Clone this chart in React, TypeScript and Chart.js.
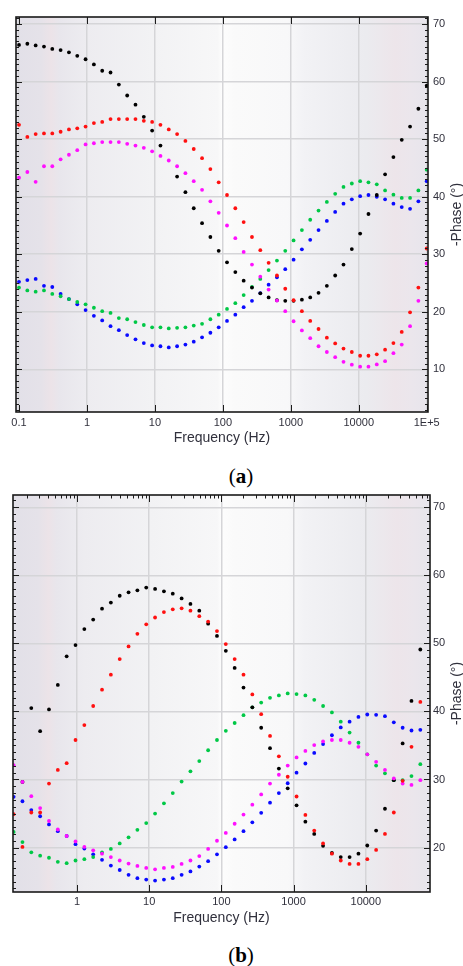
import React, { useEffect, useRef } from 'react';
import { Chart, registerables } from 'chart.js';

Chart.register(...registerables);

// ---------------- data ----------------
// measurement frequencies (Hz), 50 log-spaced points from 0.1 Hz to 100 kHz
const FREQ_HZ = [
  0.1, 0.1326, 0.1758, 0.233, 0.3089, 0.4095, 0.5429, 0.7197, 0.9541, 1.265,
  1.677, 2.223, 2.947, 3.907, 5.179, 6.866, 9.103, 12.07, 16.0, 21.21,
  28.12, 37.28, 49.42, 65.52, 86.86, 115.1, 152.6, 202.4, 268.3, 355.7,
  471.5, 625.1, 828.7, 1099, 1456, 1931, 2560, 3393, 4498, 5964,
  7906, 10481, 13895, 18421, 24420, 32375, 42919, 56899, 75431, 100000,
];

// panel (a)
const A_BLACK = [
  66.4, 66.6, 66.3, 66.1, 65.7, 65.5, 65.1, 64.5, 63.9, 63.0,
  61.9, 61.6, 59.5, 57.6, 56.0, 53.9, 51.5, 48.9, null, 43.5,
  40.8, 38.0, 35.4, 33.0, 30.6, 28.6, 26.9, 25.4, 24.2, 23.2,
  22.5, 22.0, 21.9, 21.9, 22.1, 22.5, 23.3, 24.5, 26.3, 28.2,
  30.9, 33.6, 37.0, 40.3, 43.9, 46.9, 49.9, 52.2, 55.3, 59.3,
];
const A_RED = [
  52.5, 50.4, 50.9, 51.0, 51.0, 51.3, 51.7, 51.9, 52.2, 52.8,
  53.0, 53.5, 53.5, 53.5, 53.5, 53.2, 53.0, 52.5, 51.7, 50.9,
  49.7, 48.3, 46.7, 44.8, 42.5, 40.3, 38.0, 35.6, 33.0, 30.7,
  28.5, 26.3, 24.0, 22.0, 20.1, 18.4, 17.0, 15.5, 14.5, 13.6,
  13.0, 12.35, 12.35, 12.6, 13.4, 14.55, 16.5, 19.9, 24.2, 31.0,
];
const A_MAGENTA = [
  43.3, 44.3, 42.6, 45.3, 45.3, 46.5, 47.3, 48.1, 49.1, 49.3,
  49.5, 49.5, 49.5, 49.2, 48.9, 48.5, 47.9, 47.1, 46.3, 45.3,
  44.1, 42.7, 41.2, 39.2, 37.2, 35.0, 32.8, 30.4, 28.2, 26.1,
  23.85, 21.95, 20.1, 18.35, 16.75, 15.4, 14.0, 13.0, 12.1, 11.3,
  10.8, 10.45, 10.45, 10.85, 11.4, 12.8, 14.3, 17.5, 21.9, 28.4,
];
const A_GREEN = [
  24.2, 23.7, 23.5, 23.7, 23.1, 22.7, 22.2, 21.7, 21.3, 20.7,
  20.1, 19.8, 18.9, 18.7, 18.2, 17.7, 17.3, 17.3, 17.1, 17.2,
  17.3, 17.6, 17.9, 18.7, 19.5, 20.5, 21.5, 22.9, 24.3, 25.7,
  27.25, 28.9, 30.6, 32.4, 34.2, 36.0, 37.6, 39.1, 40.5, 41.7,
  42.3, 42.7, 42.5, 42.15, 41.1, 40.35, 39.8, 39.8, 41.1, 44.7,
];
const A_BLUE = [
  25.2, 25.5, 25.7, 24.5, 24.3, 23.1, 22.2, 21.3, 20.3, 19.3,
  18.5, 17.5, 16.8, 15.95, 15.2, 14.55, 14.15, 14.0, 13.8, 14.0,
  14.3, 14.8, 15.55, 16.35, 17.3, 18.4, 19.5, 20.8, 21.9, 23.25,
  24.7, 26.0, 27.4, 29.05, 30.85, 32.5, 34.2, 35.8, 37.35, 38.8,
  39.55, 40.1, 40.3, 40.0, 39.55, 38.8, 38.2, 37.9, 39.2, 42.7,
];

// panel (b)
const B_BLACK = [
  null, null, 29.65, 40.5, 37.1, 40.3, 43.9, 48.1, 49.75, 52.1,
  53.5, 55.1, 56.0, 57.0, 57.5, 57.8, 58.2, 58.0, 57.65, 57.3,
  56.6, 55.8, 54.8, 52.9, 51.1, 48.9, 46.4, 43.5, 40.6, 37.6,
  34.6, 31.6, 28.7, 26.2, 23.8, 22.0, 20.25, 19.2, 18.6, 18.6,
  19.1, 20.3, 22.5, 25.7, 29.9, 35.3, 41.55, 49.1, null, null,
];
const B_RED = [
  null, 24.9, 20.1, 25.15, 25.15, 29.4, 31.4, 32.4, 35.8, 38.0,
  40.8, 43.2, 45.4, 47.7, 49.55, 51.4, 52.8, 53.8, 54.6, 55.0,
  55.15, 54.8, 54.0, 53.2, 51.8, 49.9, 47.7, 45.4, 42.5, 39.6,
  36.4, 33.4, 30.4, 27.5, 24.8, 22.5, 20.6, 19.1, 18.1, 17.6,
  17.6, 18.3, 19.65, 22.0, 25.15, 29.8, 34.8, 41.4, null, null,
];
const B_GREEN = [
  null, 22.3, 20.8, 19.3, 18.8, 18.5, 17.9, 17.7, 18.1, 18.3,
  18.6, 19.3, 19.8, 20.6, 21.5, 22.6, 23.6, 25.0, 26.5, 28.0,
  29.7, 31.2, 32.7, 34.3, 35.8, 37.15, 38.3, 39.45, 40.6, 41.3,
  42.0, 42.35, 42.65, 42.55, 42.35, 41.7, 40.8, 39.85, 38.5, 36.9,
  35.4, 33.7, 32.05, 30.9, 29.9, 29.9, 30.5, 32.25, null, null,
];
const B_MAGENTA = [
  null, 32.1, 29.65, 27.55, 25.8, 23.9, 22.65, 21.7, 20.9, 20.1,
  19.6, 19.1, 18.6, 18.1, 17.65, 17.3, 17.0, 16.8, 17.0, 17.15,
  17.6, 18.1, 18.75, 19.8, 21.0, 22.15, 23.5, 24.85, 26.3, 27.8,
  29.4, 30.7, 32.05, 33.25, 34.2, 35.05, 35.6, 35.8, 35.8, 35.4,
  34.8, 33.7, 32.6, 31.4, 30.15, 29.4, 29.2, 29.9, null, null,
];
const B_BLUE = [
  null, 27.45, 26.8, 25.5, 24.6, 23.4, 22.4, 21.7, 20.5, 19.85,
  19.0, 18.2, 17.35, 16.7, 16.0, 15.5, 15.3, 15.15, 15.3, 15.5,
  16.0, 16.5, 17.2, 18.0, 19.0, 20.05, 21.2, 22.4, 23.7, 25.1,
  26.6, 28.0, 29.45, 31.0, 32.35, 33.9, 35.2, 36.5, 37.65, 38.5,
  39.2, 39.55, 39.5, 39.3, 38.4, 37.6, 37.2, 37.3, null, null,
];

// axes
const A_X_TICKS = [0.1, 1, 10, 100, 1000, 10000, 100000];
const A_X_LABELS = ['0.1', '1', '10', '100', '1000', '10000', '1E+5'];
const A_Y_TICKS = [10, 20, 30, 40, 50, 60, 70];
const B_X_TICKS = [1, 10, 100, 1000, 10000];
const B_X_LABELS = ['1', '10', '100', '1000', '10000'];
const B_Y_TICKS = [20, 30, 40, 50, 60, 70];

const X_TITLE = 'Frequency (Hz)';
const Y_TITLE = '-Phase (°)';

// ---------------- styling ----------------
const COLORS = {
  black: '#000000',
  red: '#ff1010',
  magenta: '#ff10ff',
  green: '#00c846',
  blue: '#0a0aff',
};
const FONT = '"Liberation Sans", Arial, sans-serif';
const TEXT = '#30303c';
const BG_STOPS: [number, string][] = [
  [0, '#e2e0e8'],
  [0.06, '#e5e2e9'],
  [0.085, '#ece3e8'],
  [0.105, '#e8e6ec'],
  [0.17, '#edecf0'],
  [0.33, '#f2f2f4'],
  [0.49, '#f7f7f8'],
  [0.5, '#fdfdfd'],
  [0.53, '#fafafa'],
  [0.66, '#f8f8f9'],
  [0.7, '#f2f2f5'],
  [0.85, '#ebebef'],
  [0.92, '#ede5ea'],
  [0.96, '#ebe6ec'],
  [1, '#e7e5ec'],
];

type Series = { color: string; values: (number | null)[] };

type PanelProps = {
  top: number;
  height: number;
  padTop: number;
  padLeft: number;
  xAxisHeight: number;
  yAxisWidth: number;
  xLabelPad: number;
  yLabelPad: number;
  titlePadBottom: number;
  xMin: number;
  xMax: number;
  yMin: number;
  yMax: number;
  xTicks: number[];
  xLabels: string[];
  yTicks: number[];
  xMinorTop: boolean;
  series: Series[];
};

function PhasePanel(p: PanelProps) {
  const ref = useRef<HTMLCanvasElement>(null);

  useEffect(() => {
    const canvas = ref.current;
    if (!canvas) return;

    const bgPlugin = {
      id: 'bandBackground',
      beforeDraw(chart: any) {
        const { ctx, chartArea: a } = chart;
        const g = ctx.createLinearGradient(a.left, 0, a.right, 0);
        BG_STOPS.forEach(([pos, col]) => g.addColorStop(pos, col));
        ctx.save();
        ctx.fillStyle = g;
        ctx.fillRect(a.left, a.top, a.right - a.left, a.bottom - a.top);
        ctx.restore();
      },
    };

    const framePlugin = {
      id: 'frameAndTicks',
      afterDraw(chart: any) {
        const { ctx, chartArea: a, scales } = chart;
        const xs = scales.x;
        const ys = scales.y;
        ctx.save();
        ctx.strokeStyle = '#1c1c1c';
        ctx.lineWidth = 1;
        ctx.beginPath();
        // x major ticks top and bottom
        p.xTicks.forEach((v) => {
          const px = Math.round(xs.getPixelForValue(v)) + 0.5;
          ctx.moveTo(px, a.top);
          ctx.lineTo(px, a.top + 7);
          ctx.moveTo(px, a.bottom);
          ctx.lineTo(px, a.bottom - 7);
        });
        // x minor ticks on top edge
        if (p.xMinorTop) {
          for (let d = 0.1; d <= 100000; d *= 10) {
            for (let m = 2; m <= 9; m++) {
              const v = d * m;
              if (v <= p.xMin || v >= p.xMax) continue;
              const px = Math.round(xs.getPixelForValue(v)) + 0.5;
              ctx.moveTo(px, a.top);
              ctx.lineTo(px, a.top + 3.5);
            }
          }
        }
        // y ticks on both edges
        for (let v = Math.ceil(p.yMin); v <= Math.floor(p.yMax); v++) {
          const len = v % 10 === 0 ? 6 : 3;
          const py = Math.round(ys.getPixelForValue(v)) + 0.5;
          ctx.moveTo(a.left, py);
          ctx.lineTo(a.left + len, py);
          ctx.moveTo(a.right, py);
          ctx.lineTo(a.right - len, py);
        }
        ctx.stroke();
        // frame
        ctx.lineWidth = 1.6;
        ctx.strokeStyle = '#1a1a1a';
        ctx.strokeRect(a.left, a.top, a.right - a.left, a.bottom - a.top);
        // rotated y title (reads bottom to top)
        ctx.fillStyle = TEXT;
        ctx.font = `14px ${FONT}`;
        ctx.textAlign = 'center';
        ctx.textBaseline = 'middle';
        ctx.translate(457, (a.top + a.bottom) / 2);
        ctx.rotate(-Math.PI / 2);
        ctx.fillText(Y_TITLE, 0, 0);
        ctx.restore();
      },
    };

    const datasets = p.series.map((s) => ({
      data: FREQ_HZ.map((f, i) => ({ x: f, y: s.values[i] })).filter(
        (pt) => pt.y !== null && pt.y !== undefined
      ),
      backgroundColor: s.color,
      borderColor: s.color,
      pointRadius: 1.9,
      pointBorderWidth: 0,
      pointHoverRadius: 1.9,
      showLine: false,
    }));

    const chart = new Chart(canvas, {
      type: 'scatter',
      data: { datasets: datasets as any },
      options: {
        animation: false,
        responsive: false,
        events: [],
        layout: { padding: { top: p.padTop, left: p.padLeft, right: 0, bottom: 0 } },
        plugins: { legend: { display: false }, tooltip: { enabled: false } },
        scales: {
          x: {
            type: 'logarithmic',
            position: 'bottom',
            min: p.xMin,
            max: p.xMax,
            bounds: 'data',
            afterBuildTicks: (s: any) => {
              s.ticks = p.xTicks.map((v) => ({ value: v, major: true }));
            },
            afterFit: (s: any) => {
              s.height = p.xAxisHeight;
            },
            ticks: {
              autoSkip: false,
              maxRotation: 0,
              minRotation: 0,
              padding: p.xLabelPad,
              color: TEXT,
              font: { family: FONT, size: 11 },
              callback: (v: any) => {
                const idx = p.xTicks.indexOf(Number(v));
                return idx >= 0 ? p.xLabels[idx] : '';
              },
            },
            grid: { color: '#d5d5d8', lineWidth: 1.5, drawTicks: false },
            border: { display: false },
            title: {
              display: true,
              text: X_TITLE,
              color: TEXT,
              font: { family: FONT, size: 14 },
              padding: { top: 0, bottom: p.titlePadBottom },
            },
          },
          y: {
            type: 'linear',
            position: 'right',
            min: p.yMin,
            max: p.yMax,
            bounds: 'data',
            afterBuildTicks: (s: any) => {
              s.ticks = p.yTicks.map((v) => ({ value: v }));
            },
            afterFit: (s: any) => {
              s.width = p.yAxisWidth;
            },
            ticks: {
              autoSkip: false,
              padding: p.yLabelPad,
              color: TEXT,
              font: { family: FONT, size: 11 },
              callback: (v: any) => String(v),
            },
            grid: { color: '#d5d5d8', lineWidth: 1.5, drawTicks: false },
            border: { display: false },
          },
        },
      } as any,
      plugins: [bgPlugin, framePlugin],
    });

    return () => chart.destroy();
  }, []);

  return (
    <canvas
      ref={ref}
      width={463}
      height={p.height}
      style={{ position: 'absolute', left: 0, top: p.top, width: 463, height: p.height }}
    />
  );
}

function PanelLabel({ letter, centerY }: { letter: string; centerY: number }) {
  return (
    <div
      style={{
        position: 'absolute',
        left: 0,
        width: 482,
        top: centerY - 12,
        height: 24,
        lineHeight: '24px',
        textAlign: 'center',
        fontFamily: '"Liberation Serif", "Times New Roman", serif',
        fontSize: 21,
        color: '#000',
      }}
    >
      (<b>{letter}</b>)
    </div>
  );
}

export default function App() {
  const seriesA: Series[] = [
    { color: COLORS.red, values: A_RED },
    { color: COLORS.magenta, values: A_MAGENTA },
    { color: COLORS.black, values: A_BLACK },
    { color: COLORS.green, values: A_GREEN },
    { color: COLORS.blue, values: A_BLUE },
  ];
  const seriesB: Series[] = [
    { color: COLORS.red, values: B_RED },
    { color: COLORS.magenta, values: B_MAGENTA },
    { color: COLORS.black, values: B_BLACK },
    { color: COLORS.green, values: B_GREEN },
    { color: COLORS.blue, values: B_BLUE },
  ];

  return (
    <div
      style={{
        position: 'fixed',
        left: 0,
        top: 0,
        width: 463,
        height: 966,
        background: '#ffffff',
        overflow: 'hidden',
      }}
    >
      <PhasePanel
        top={0}
        height={455}
        padTop={17}
        padLeft={16}
        xAxisHeight={43}
        yAxisWidth={35}
        xLabelPad={4}
        yLabelPad={5}
        titlePadBottom={8}
        xMin={0.0903}
        xMax={104500}
        yMin={2.57}
        yMax={71.25}
        xTicks={A_X_TICKS}
        xLabels={A_X_LABELS}
        yTicks={A_Y_TICKS}
        xMinorTop={false}
        series={seriesA}
      />
      <PanelLabel letter="a" centerY={476} />
      <PhasePanel
        top={480}
        height={452}
        padTop={15}
        padLeft={13}
        xAxisHeight={40}
        yAxisWidth={33}
        xLabelPad={3}
        yLabelPad={3}
        titlePadBottom={5}
        xMin={0.13}
        xMax={77450}
        yMin={13.47}
        yMax={71.8}
        xTicks={B_X_TICKS}
        xLabels={B_X_LABELS}
        yTicks={B_Y_TICKS}
        xMinorTop={true}
        series={seriesB}
      />
      <PanelLabel letter="b" centerY={955} />
    </div>
  );
}
